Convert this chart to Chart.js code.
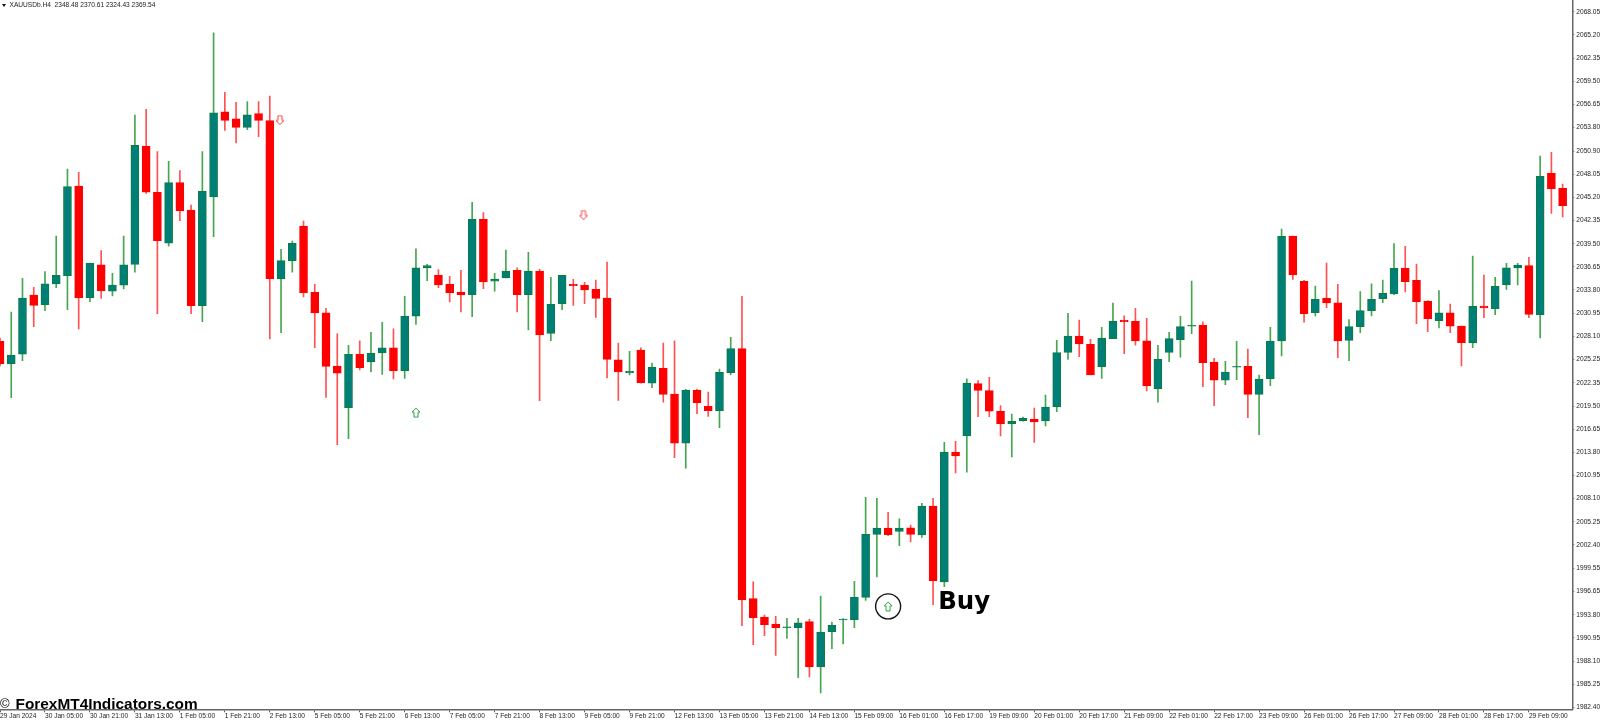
<!DOCTYPE html>
<html>
<head>
<meta charset="utf-8">
<title>XAUUSDb.H4</title>
<script src="https://cdn.jsdelivr.net/npm/chart.js@4/dist/chart.umd.min.js"></script>
<style>
    html, body { margin: 0; padding: 0; background: #fff; overflow: hidden; }
    #wrap { position: relative; width: 1600px; height: 722px; }
    #header { position: absolute; left: 9.5px; top: 1px; font: 6.6px "Liberation Sans", sans-serif; color: #222; white-space: pre; }
    #caret { position: absolute; left: 1.5px; top: 4px; width: 0; height: 0; border-left: 2.5px solid transparent; border-right: 2.5px solid transparent; border-top: 3px solid #111; }
    #copy { position: absolute; left: 0; top: 696px; font: 13px "Liberation Sans", sans-serif; color: #000; }
    #site { position: absolute; left: 15.5px; top: 694.5px; font: bold 15.4px "Liberation Sans", sans-serif; color: #000; line-height: 17px; }
</style>
</head>
<body>
<div id="wrap">
    <canvas id="candles" width="1600" height="722"></canvas>
    <div id="caret"></div>
    <div id="header">XAUUSDb.H4  2348.48 2370.61 2324.43 2369.54</div>
    <div id="copy">©</div>
    <div id="site">ForexMT4Indicators.com</div>
</div>
<script>
// H4 candles
const opens = [
    2027.48, 2024.68, 2025.88, 2033.18, 2031.99, 2034.54, 2035.56, 2046.60, 2032.81, 2036.91,
    2033.64, 2034.38, 2036.96, 2051.53, 2045.83, 2039.55, 2047.01, 2043.65, 2031.86, 2045.25,
    2055.75, 2054.89, 2053.83, 2055.51, 2054.65, 2035.15, 2037.41, 2041.68, 2033.51, 2031.00,
    2024.44, 2019.30, 2025.88, 2024.93, 2026.04, 2026.69, 2023.86, 2030.56, 2036.51, 2035.61,
    2034.50, 2033.55, 2033.22, 2042.50, 2034.87, 2035.27, 2036.22, 2033.22, 2036.14, 2028.46,
    2032.11, 2034.50, 2034.38, 2033.88, 2032.81, 2025.21, 2023.61, 2026.41, 2022.31, 2024.15,
    2020.99, 2014.92, 2021.48, 2019.47, 2018.93, 2023.61, 2026.57, 1995.78, 1993.53, 1992.66,
    1992.21, 1992.21, 1992.95, 1987.37, 1991.72, 1993.16, 1993.19, 1995.95, 2003.71, 2004.49,
    2004.08, 2004.52, 2003.62, 2007.20, 1997.84, 2013.85, 2015.82, 2022.26, 2021.40, 2018.86,
    2017.33, 2017.66, 2017.87, 2017.66, 2019.39, 2026.12, 2028.13, 2027.11, 2024.35, 2027.80,
    2030.07, 2029.94, 2027.55, 2021.64, 2026.12, 2027.68, 2029.33, 2029.45, 2024.93, 2022.68,
    2024.28, 2024.40, 2020.95, 2022.87, 2027.52, 2040.45, 2034.87, 2031.00, 2032.77, 2032.23,
    2027.60, 2029.28, 2031.25, 2032.73, 2033.30, 2036.47, 2034.99, 2032.40, 2030.02, 2031.00,
    2029.36, 2027.27, 2031.83, 2031.49, 2034.45, 2036.51, 2036.79, 2030.72, 2048.17, 2046.32
];
const highs = [
    2027.89, 2031.09, 2035.24, 2034.13, 2036.05, 2040.45, 2048.70, 2048.29, 2037.12, 2038.64,
    2035.85, 2040.45, 2055.35, 2056.05, 2050.83, 2049.65, 2048.49, 2044.26, 2050.83, 2065.48,
    2058.14, 2056.91, 2056.99, 2056.99, 2057.69, 2038.81, 2039.83, 2042.29, 2034.50, 2031.54,
    2028.41, 2026.99, 2027.55, 2028.59, 2029.82, 2029.03, 2033.02, 2038.88, 2036.96, 2036.30,
    2035.48, 2036.22, 2044.60, 2043.32, 2035.85, 2038.72, 2036.54, 2038.44, 2036.35, 2035.36,
    2035.61, 2035.11, 2034.74, 2035.03, 2037.24, 2027.27, 2026.25, 2026.69, 2024.81, 2027.27,
    2027.55, 2021.57, 2021.60, 2021.24, 2024.07, 2027.97, 2033.02, 1997.87, 1993.77, 1993.61,
    1993.37, 1993.37, 1993.24, 1996.11, 1992.91, 1993.32, 1997.92, 2008.27, 2008.14, 2006.42,
    2005.63, 2004.86, 2007.53, 2008.14, 2015.04, 2015.16, 2022.87, 2022.63, 2023.05, 2019.55,
    2018.53, 2018.16, 2019.26, 2020.87, 2027.60, 2030.93, 2030.10, 2027.73, 2029.20, 2032.20,
    2030.63, 2031.54, 2030.31, 2026.99, 2028.59, 2030.56, 2034.90, 2029.89, 2025.39, 2025.02,
    2027.48, 2026.53, 2023.33, 2029.20, 2041.31, 2040.45, 2034.99, 2034.29, 2037.12, 2034.50,
    2030.14, 2033.59, 2034.57, 2035.03, 2039.50, 2039.18, 2037.00, 2032.48, 2033.71, 2032.07,
    2029.36, 2037.98, 2035.64, 2035.36, 2037.08, 2037.08, 2037.82, 2050.30, 2050.75, 2046.85
];
const lows = [
    2024.44, 2020.53, 2025.09, 2029.28, 2031.25, 2034.08, 2031.37, 2028.99, 2032.36, 2032.77,
    2033.06, 2033.92, 2035.98, 2045.70, 2030.88, 2039.18, 2042.33, 2030.88, 2029.89, 2040.36,
    2053.46, 2051.90, 2053.54, 2052.68, 2027.76, 2028.54, 2035.98, 2032.93, 2026.69, 2020.58,
    2014.75, 2015.48, 2023.94, 2023.70, 2023.41, 2022.84, 2022.92, 2029.57, 2034.94, 2034.08,
    2032.32, 2031.09, 2030.51, 2033.96, 2033.64, 2035.27, 2031.09, 2028.87, 2020.16, 2027.55,
    2031.37, 2031.91, 2032.11, 2030.43, 2022.96, 2020.21, 2023.33, 2022.31, 2021.76, 2019.97,
    2013.14, 2011.84, 2018.56, 2018.24, 2016.84, 2023.37, 1992.46, 1990.12, 1991.22, 1988.81,
    1990.90, 1986.05, 1986.14, 1984.17, 1989.62, 1990.20, 1992.21, 1995.58, 1998.45, 2003.54,
    2002.31, 2002.76, 2003.34, 1995.04, 1997.26, 2011.26, 2011.35, 2018.19, 2018.19, 2015.82,
    2013.23, 2017.63, 2015.04, 2017.05, 2018.81, 2025.26, 2025.58, 2023.33, 2022.92, 2027.80,
    2025.95, 2026.99, 2021.36, 2019.97, 2024.97, 2025.51, 2028.41, 2021.89, 2019.55, 2022.13,
    2022.75, 2018.07, 2015.98, 2022.01, 2025.67, 2035.11, 2029.82, 2030.59, 2031.62, 2025.46,
    2025.09, 2028.54, 2030.59, 2032.23, 2033.22, 2033.55, 2029.65, 2028.66, 2029.12, 2028.54,
    2024.44, 2026.69, 2030.39, 2030.75, 2033.88, 2034.41, 2030.39, 2027.89, 2043.24, 2042.79
];
const closes = [
    2024.72, 2025.79, 2032.81, 2031.91, 2034.57, 2035.61, 2046.52, 2032.81, 2037.08, 2033.67,
    2034.41, 2036.91, 2051.62, 2045.83, 2039.87, 2047.01, 2043.53, 2031.86, 2045.95, 2055.63,
    2054.69, 2053.83, 2055.38, 2054.69, 2035.19, 2037.41, 2039.55, 2033.46, 2030.96, 2024.40,
    2023.54, 2025.88, 2024.23, 2026.00, 2026.69, 2023.86, 2030.59, 2036.54, 2036.79, 2034.41,
    2033.46, 2033.18, 2042.50, 2034.78, 2035.15, 2036.14, 2033.22, 2036.14, 2028.25, 2032.04,
    2035.61, 2034.33, 2033.80, 2032.77, 2025.26, 2023.70, 2023.78, 2022.38, 2024.28, 2020.95,
    2014.92, 2021.48, 2019.92, 2018.93, 2023.66, 2026.57, 1995.62, 1993.44, 1992.58, 1992.21,
    1992.33, 1992.82, 1987.37, 1991.68, 1992.50, 1993.28, 1995.95, 2003.71, 2004.49, 2003.66,
    2004.49, 2003.71, 2007.20, 1998.00, 2013.85, 2013.35, 2022.34, 2021.44, 2018.86, 2017.29,
    2017.63, 2018.00, 2017.54, 2019.39, 2026.08, 2028.13, 2027.15, 2023.33, 2027.89, 2029.94,
    2029.89, 2027.52, 2021.97, 2025.26, 2027.80, 2029.28, 2029.45, 2024.84, 2022.68, 2023.70,
    2024.40, 2020.95, 2022.84, 2027.52, 2040.41, 2035.64, 2030.88, 2032.65, 2032.20, 2027.52,
    2029.28, 2031.25, 2032.65, 2033.39, 2036.47, 2034.82, 2032.36, 2030.26, 2031.00, 2029.33,
    2027.31, 2031.79, 2031.58, 2034.25, 2036.54, 2036.88, 2030.80, 2047.80, 2046.27, 2044.18
];

const priceTicks = [
    2068.05, 2065.20, 2062.35, 2059.50, 2056.65, 2053.80, 2050.90, 2048.05, 2045.20, 2042.35, 2039.50,
    2036.65, 2033.80, 2030.95, 2028.10, 2025.25, 2022.35, 2019.50, 2016.65, 2013.80, 2010.95, 2008.10,
    2005.25, 2002.40, 1999.55, 1996.65, 1993.80, 1990.95, 1988.10, 1985.25, 1982.40
];
const timeLabels = [
    '29 Jan 2024', '30 Jan 05:00', '30 Jan 21:00', '31 Jan 13:00', '1 Feb 05:00', '1 Feb 21:00', '2 Feb 13:00',
    '5 Feb 05:00', '5 Feb 21:00', '6 Feb 13:00', '7 Feb 05:00', '7 Feb 21:00', '8 Feb 13:00', '9 Feb 05:00',
    '9 Feb 21:00', '12 Feb 13:00', '13 Feb 05:00', '13 Feb 21:00', '14 Feb 13:00', '15 Feb 09:00', '16 Feb 01:00',
    '16 Feb 17:00', '19 Feb 09:00', '20 Feb 01:00', '20 Feb 17:00', '21 Feb 09:00', '22 Feb 01:00', '22 Feb 17:00',
    '23 Feb 09:00', '26 Feb 01:00', '26 Feb 17:00', '27 Feb 09:00', '28 Feb 01:00', '28 Feb 17:00', '29 Feb 09:00'
];

// signal arrows
const downArrows = [{ x: 24.9, y: 2054.73 }, { x: 51.9, y: 2043.03 }];
const upArrows = [{ x: 37, y: 2018.69 }, { x: 79, y: 1994.84 }];
const circled = [{ x: 79, y: 1994.84 }];
const buyLabel = { x: 83.45, y: 1994.51, text: 'Buy' };

const BULL_FILL = '#007f78';
const BULL_EDGE = '#0b7d3e';
const BULL_WICK = '#46a650';
const BEAR_FILL = '#ff0000';
const BEAR_WICK = '#ff5252';

function arrowImage(color, pointsUp) {
    const c = document.createElement('canvas');
    c.width = 10;
    c.height = 11;
    const g = c.getContext('2d');
    g.strokeStyle = color;
    g.lineWidth = 1;
    g.translate(5, 5.5);
    if (!pointsUp) g.scale(1, -1);
    g.beginPath();
    g.moveTo(0, -4.5);
    g.lineTo(4, -0.5);
    g.lineTo(2, -0.5);
    g.lineTo(2, 4.5);
    g.lineTo(-2, 4.5);
    g.lineTo(-2, -0.5);
    g.lineTo(-4, -0.5);
    g.closePath();
    g.stroke();
    return c;
}

const isBull = i => closes[i] >= opens[i];

const buyLabelPlugin = {
    id: 'buyLabel',
    afterDatasetsDraw(chart) {
        const { ctx, scales } = chart;
        ctx.save();
        ctx.font = 'bold 24.5px "DejaVu Sans"';
        ctx.fillStyle = '#000';
        ctx.textBaseline = 'alphabetic';
        ctx.fillText(buyLabel.text, scales.x.getPixelForValue(buyLabel.x), scales.y.getPixelForValue(buyLabel.y));
        ctx.restore();
    }
};

new Chart(document.getElementById('candles').getContext('2d'), {
    type: 'bar',
    plugins: [buyLabelPlugin],
    data: {
        datasets: [
            {
                label: 'Body',
                order: 2,
                data: opens.map((o, i) => ({ x: i, y: [o, closes[i]] })),
                backgroundColor: opens.map((o, i) => isBull(i) ? BULL_FILL : BEAR_FILL),
                borderColor: opens.map((o, i) => isBull(i) ? BULL_EDGE : BEAR_FILL),
                borderWidth: 1,
                borderSkipped: false,
                barThickness: 8
            },
            {
                label: 'Wick',
                order: 3,
                data: lows.map((l, i) => ({ x: i, y: [l, highs[i]] })),
                backgroundColor: opens.map((o, i) => isBull(i) ? BULL_WICK : BEAR_WICK),
                borderWidth: 0,
                barThickness: 1
            },
            {
                type: 'scatter',
                label: 'Sell arrows',
                order: 1,
                data: downArrows,
                pointStyle: arrowImage('#ff4040', false),
                pointRadius: 5
            },
            {
                type: 'scatter',
                label: 'Buy arrows',
                order: 1,
                data: upArrows,
                pointStyle: arrowImage('#2f9e44', true),
                pointRadius: 5
            },
            {
                type: 'scatter',
                label: 'Circle',
                order: 1,
                data: circled,
                pointStyle: 'circle',
                pointRadius: 12.5,
                backgroundColor: 'transparent',
                borderColor: '#111',
                borderWidth: 1.4
            }
        ]
    },
    options: {
        responsive: false,
        animation: false,
        devicePixelRatio: 1,
        layout: { padding: 0, autoPadding: false },
        plugins: { legend: { display: false }, tooltip: { enabled: false } },
        datasets: { bar: { grouped: false } },
        scales: {
            x: {
                type: 'linear',
                offset: false,
                min: 0,
                max: 139.86,
                grid: { offset: false, drawOnChartArea: false, tickLength: 3, color: '#555' },
                border: { color: '#666', width: 1.5 },
                afterBuildTicks(scale) {
                    scale.ticks = timeLabels.map((t, i) => ({ value: i * 4 }));
                },
                afterFit(scale) {
                    scale.height = 12.7;
                    scale.paddingLeft = 0;
                    scale.paddingRight = 0;
                },
                ticks: {
                    autoSkip: false,
                    maxRotation: 0,
                    minRotation: 0,
                    align: 'start',
                    padding: 0,
                    color: '#222',
                    font: { family: '"Liberation Sans"', size: 6.6 },
                    callback: (value, index) => timeLabels[index]
                }
            },
            y: {
                position: 'right',
                min: 1982.16,
                max: 2069.51,
                grid: { drawOnChartArea: false, tickLength: 2, color: '#555' },
                border: { color: '#666', width: 1.5 },
                afterBuildTicks(scale) {
                    scale.ticks = priceTicks.map(p => ({ value: p }));
                },
                afterFit(scale) {
                    scale.width = 27.7;
                    scale.paddingTop = 0;
                    scale.paddingBottom = 0;
                },
                ticks: {
                    autoSkip: false,
                    padding: 2,
                    color: '#222',
                    font: { family: '"Liberation Sans"', size: 6.6 },
                    callback: value => value.toFixed(2)
                }
            }
        }
    }
});
</script>
</body>
</html>
